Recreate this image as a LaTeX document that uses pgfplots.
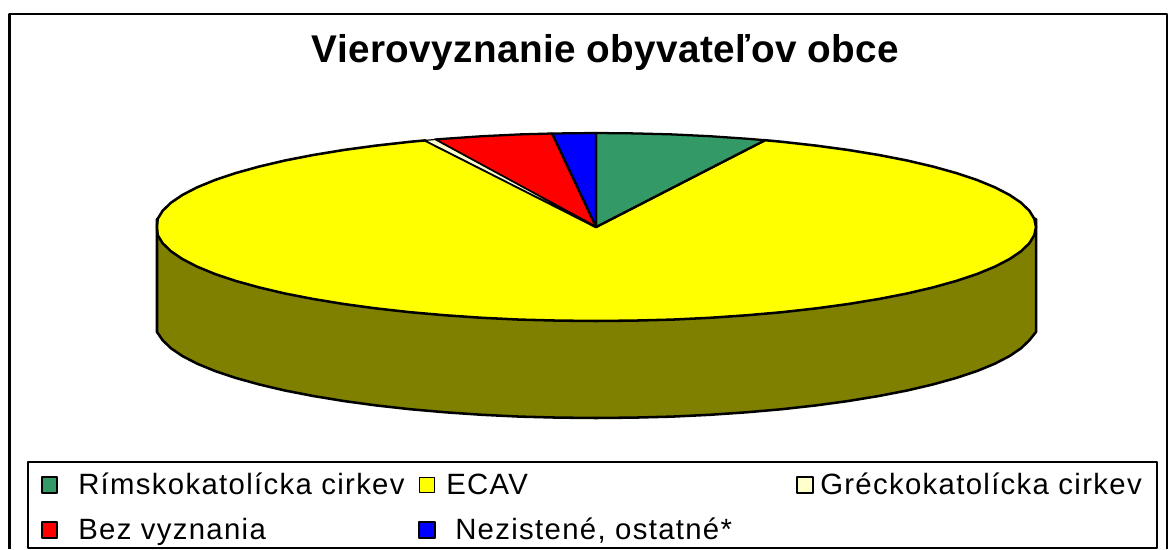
\documentclass[border=0pt]{standalone}
\usepackage{pgfplots}
\pgfplotsset{compat=1.18}
\usepackage{fontspec}
\setmainfont{Liberation Sans}
\newfontfamily\legfont[LetterSpace=4.5]{Liberation Sans}
\newfontfamily\titfont[LetterSpace=1]{Liberation Sans}
\definecolor{pgreen}{HTML}{339966}
\definecolor{pyellow}{HTML}{FFFF00}
\definecolor{pside}{HTML}{808000}
\definecolor{pcream}{HTML}{FFFFCC}
\definecolor{pred}{HTML}{FF0000}
\definecolor{pblue}{HTML}{0000FF}
\begin{document}
\begin{tikzpicture}
\begin{axis}[
  scale only axis, width=876.75pt, height=411.75pt,
  xmin=0, xmax=1169, ymin=0, ymax=549, y dir=reverse,
  hide axis, clip=true,
  every axis plot/.append style={line join=round},
]
% page extent
\addplot[white, line width=0.1pt] coordinates {(0,0) (1169,0) (1169,549) (0,549)} -- cycle;
% outer frame
\addplot[black, line width=2.2pt] coordinates {(9.7,549) (9.7,14) (1167,14) (1167,549)};
% side wall
\addplot[draw=black, line width=1.9pt, fill=pside] coordinates {
(157,219) (157,332) (162.7,340.3) (171,348.3) (182.5,356.1) (197.2,363.7) (215,371) (235.6,377.9) (259,384.4) (284.9,390.5) (313.2,396) (343.6,401) (376,405.4) (410,409.2) (445.5,412.3) (482.1,414.8)
(519.6,416.6) (557.6,417.6) (596,418) (634.4,417.6) (672.4,416.6) (709.9,414.8) (746.5,412.3) (782,409.2) (816,405.4) (848.4,401) (878.8,396) (907.1,390.5) (933.1,384.4) (956.4,377.9) (977.1,371) (994.8,363.7)
(1009.5,356.1) (1021,348.3) (1029.3,340.3) (1036,332) (1036,219)} -- cycle;
% ECAV
\addplot[draw=black, line width=1.9pt, fill=pyellow] coordinates {
(596,227) (425,140.4) (410,141.8) (376,145.6) (343.6,150) (313.2,155) (284.9,160.5) (259,166.6) (235.6,173.1) (215,180) (197.2,187.3) (182.5,194.9) (171,202.7) (162.7,210.7) (157.7,218.8)
(157,227) (157.7,235.2) (162.7,243.3) (171,251.3) (182.5,259.1) (197.2,266.7) (215,274) (235.6,280.9) (259,287.4) (284.9,293.5) (313.2,299) (343.6,304) (376,308.4) (410,312.2) (445.5,315.3) (482.1,317.8)
(519.6,319.6) (557.6,320.6) (596,321) (634.4,320.6) (672.4,319.6) (709.9,317.8) (746.5,315.3) (782,312.2) (816,308.4) (848.4,304) (878.8,299) (907.1,293.5) (933.1,287.4) (956.4,280.9) (977.1,274) (994.8,266.7)
(1009.5,259.1) (1021,251.3) (1029.3,243.3) (1034.3,235.2) (1036,227) (1034.3,218.8) (1029.3,210.7) (1021,202.7) (1009.5,194.9) (994.8,187.3) (977.1,180) (956.4,173.1)
(933.1,166.6) (907.1,160.5) (878.8,155) (848.4,150) (816,145.6) (782,141.8) (765,140.2)} -- cycle;
% Rimskokatolicka
\addplot[draw=black, line width=1.7pt, fill=pgreen] coordinates {
(596,227) (596,133) (634.4,133.4) (672.4,134.4) (709.9,136.2) (746.5,138.7) (765,140.2)} -- cycle;
% Nezistene
\addplot[draw=black, line width=1.7pt, fill=pblue] coordinates {
(596,227) (596,133) (552,133.5)} -- cycle;
% Bez vyznania
\addplot[draw=black, line width=1.7pt, fill=pred] coordinates {
(596,227) (552,133.5) (519.6,134.4) (482.1,136.2) (445.5,138.7) (435,139.5)} -- cycle;
% Greckokatolicka
\addplot[draw=black, line width=0.9pt, fill=pcream] coordinates {
(596,227) (435,139.5) (425,140.4)} -- cycle;
% legend box
\addplot[draw=black, line width=1.2pt, fill=white] coordinates {(28,462) (1157,462) (1157,548) (28,548)} -- cycle;
% legend swatches
\addplot[only marks, mark=square*, mark size=5.8pt, mark options={fill=pgreen, draw=black, line width=1.3pt}] coordinates {(49.5,485)};
\addplot[only marks, mark=square*, mark size=5.6pt, mark options={fill=pyellow, draw=black, line width=1.3pt}] coordinates {(427,485)};
\addplot[only marks, mark=square*, mark size=5.8pt, mark options={fill=pcream, draw=black, line width=1.3pt}] coordinates {(805,485)};
\addplot[only marks, mark=square*, mark size=5.8pt, mark options={fill=pred, draw=black, line width=1.3pt}] coordinates {(49.5,530)};
\addplot[only marks, mark=square*, mark size=5.8pt, mark options={fill=pblue, draw=black, line width=1.3pt}] coordinates {(427,530)};
% texts
\node[font=\titfont\fontsize{29pt}{32pt}\selectfont\bfseries, anchor=base] at (axis cs:605.5,63) {Vierovyznanie obyvateľov obce};
\node[font=\legfont\fontsize{22pt}{24pt}\selectfont, anchor=base west, inner sep=0pt] at (axis cs:78,494) {Rímskokatolícka cirkev};
\node[font=\legfont\fontsize{22pt}{24pt}\selectfont, anchor=base west, inner sep=0pt] at (axis cs:446,494) {ECAV};
\node[font=\legfont\fontsize{22pt}{24pt}\selectfont, anchor=base west, inner sep=0pt] at (axis cs:820,494) {Gréckokatolícka cirkev};
\node[font=\legfont\fontsize{22pt}{24pt}\selectfont, anchor=base west, inner sep=0pt] at (axis cs:78,539) {Bez vyznania};
\node[font=\legfont\fontsize{22pt}{24pt}\selectfont, anchor=base west, inner sep=0pt] at (axis cs:455,539) {Nezistené, ostatné*};
\end{axis}
\end{tikzpicture}
\end{document}
